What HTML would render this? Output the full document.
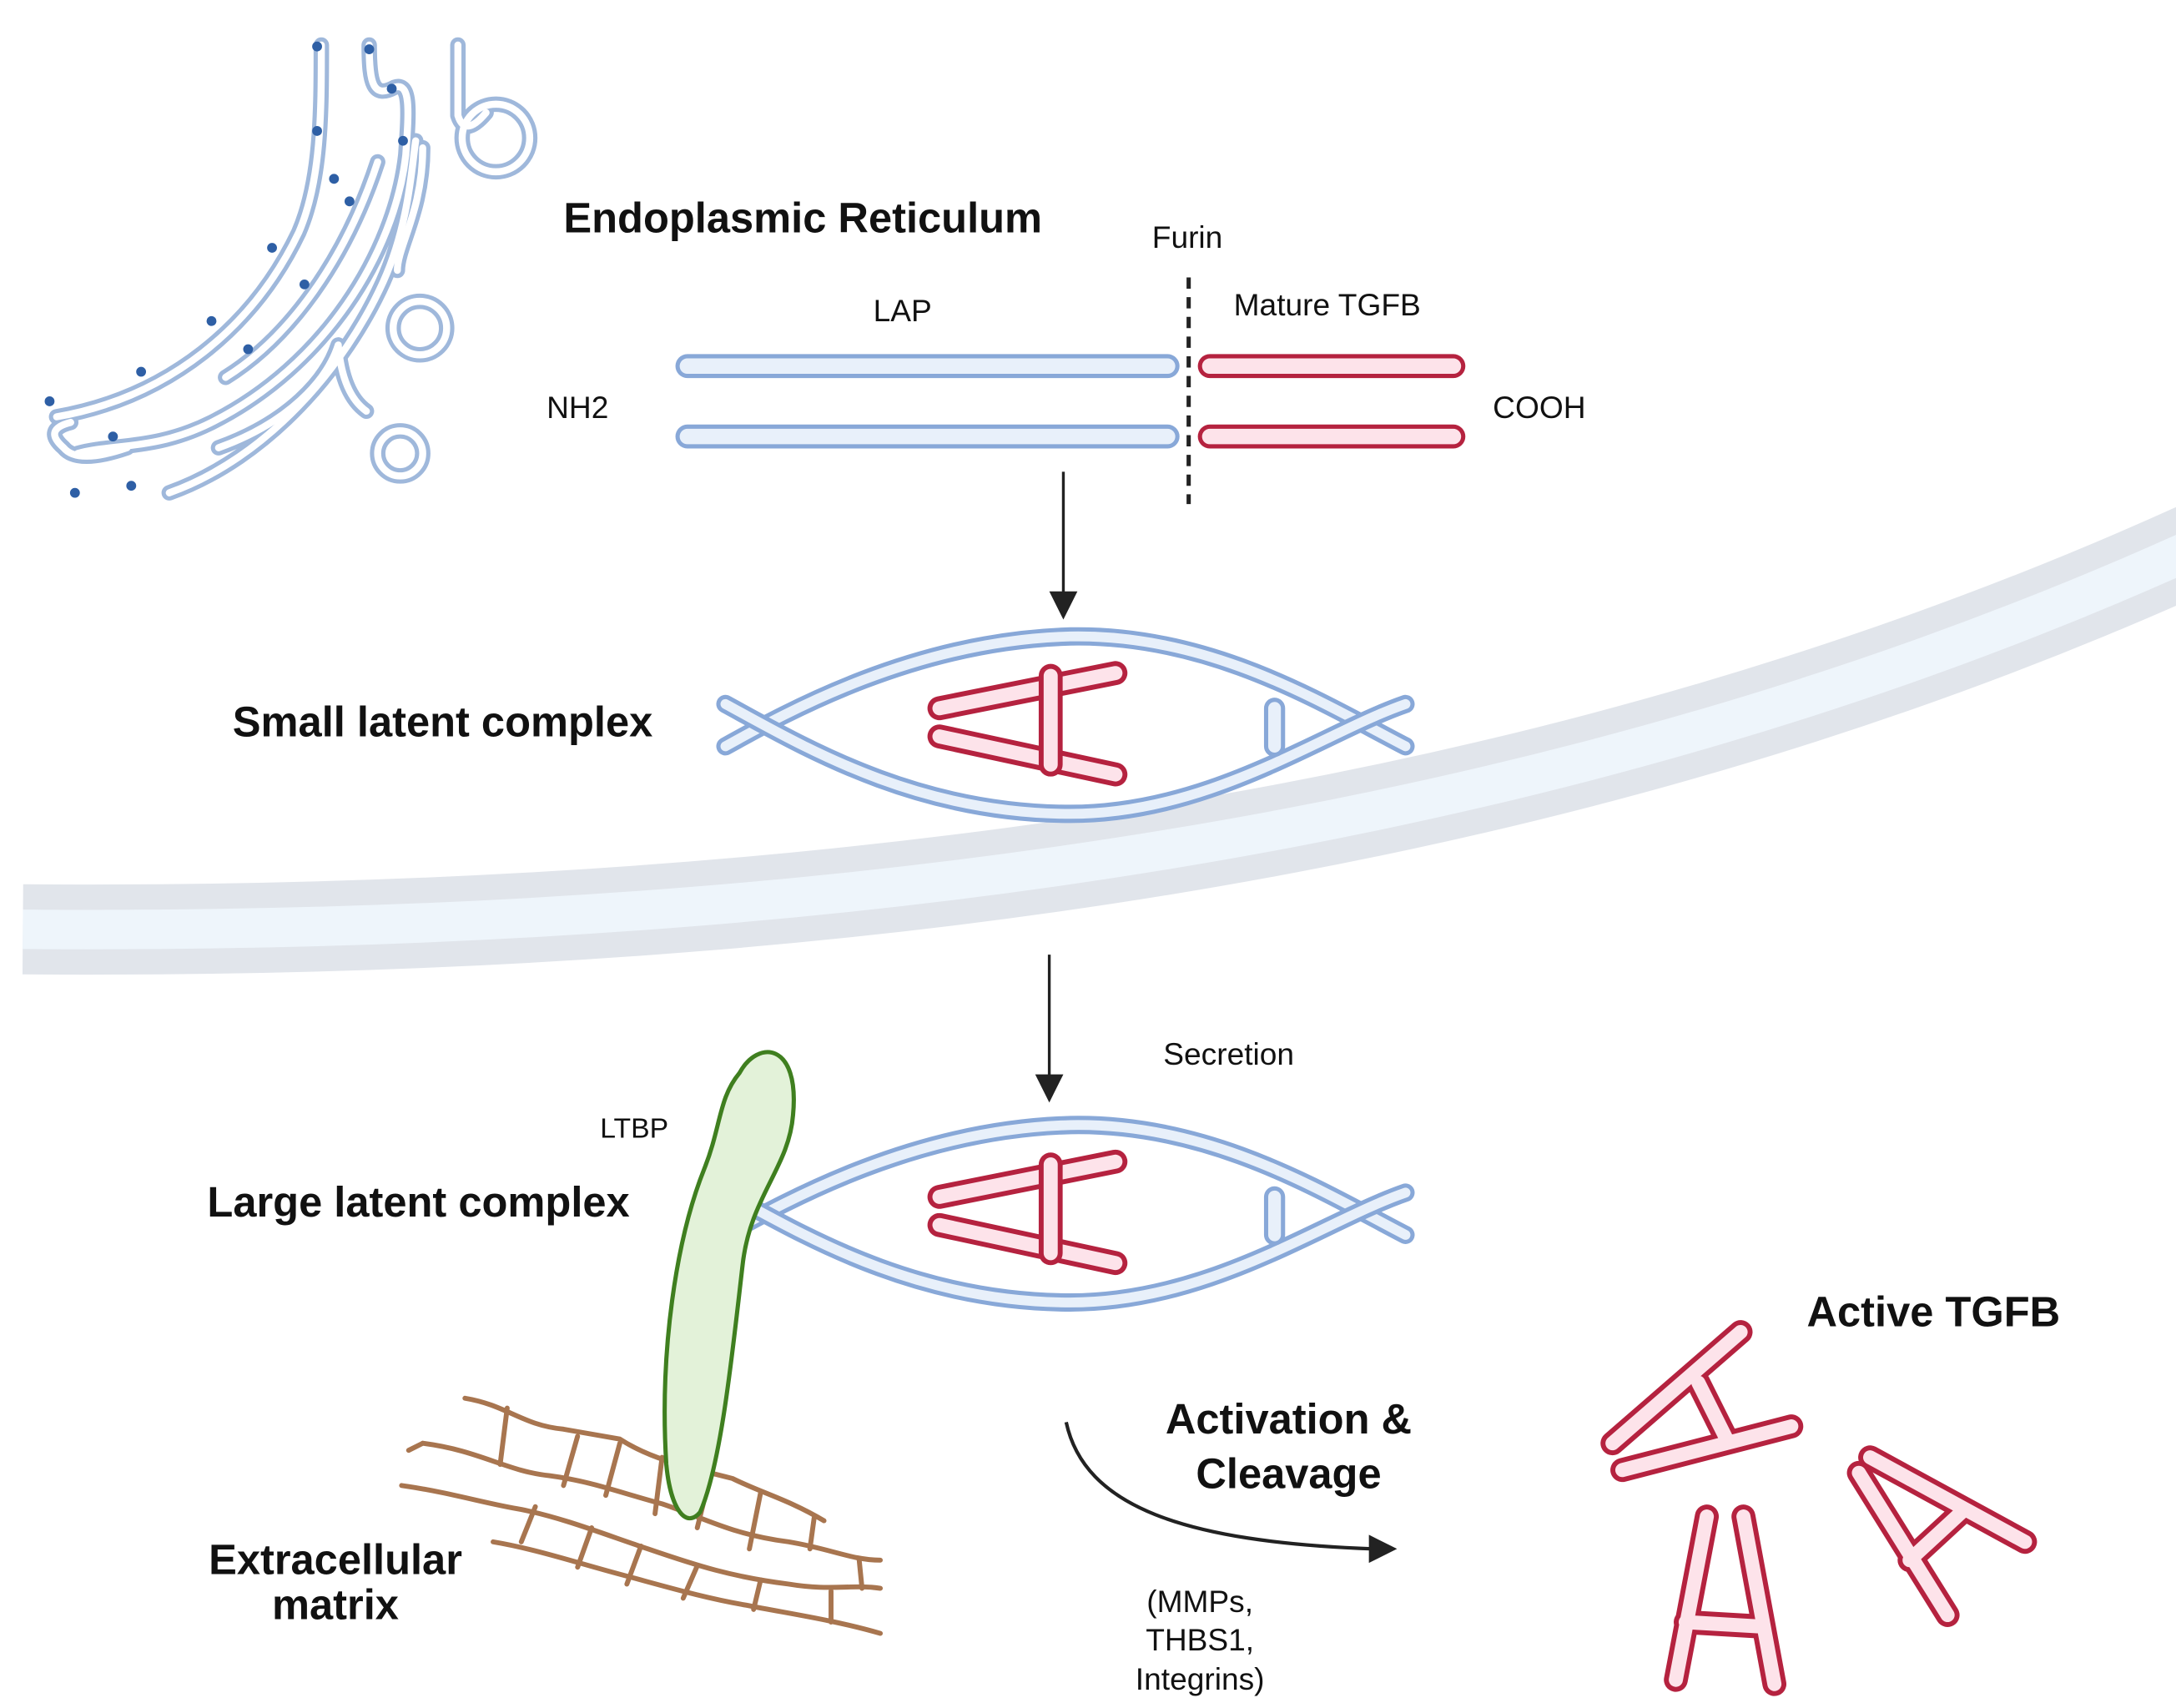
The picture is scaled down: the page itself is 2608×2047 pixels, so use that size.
<!DOCTYPE html>
<html><head><meta charset="utf-8"><style>
html,body{margin:0;padding:0;background:#fff;}
svg{display:block;}
text{font-family:"Liberation Sans",Arial,sans-serif;fill:#111;}
.b{font-weight:bold;font-size:30px;}
.r{font-size:22px;}
</style></head><body>
<svg width="2608" height="2047" viewBox="0 0 1545 1213" xmlns="http://www.w3.org/2000/svg">
<defs>
<g id="lens">
  <path d="M515,530 C 560,505 650,455 760,452 C 860,450 940,500 998,530" fill="none" stroke="#88a8d8" stroke-width="13" stroke-linecap="round"/>
  <path d="M515,530 C 560,505 650,455 760,452 C 860,450 940,500 998,530" fill="none" stroke="#e8f0fa" stroke-width="7" stroke-linecap="round"/>
  <path d="M515,500 C 570,530 650,578 760,578 C 860,578 940,520 998,500" fill="none" stroke="#88a8d8" stroke-width="13" stroke-linecap="round"/>
  <path d="M515,500 C 570,530 650,578 760,578 C 860,578 940,520 998,500" fill="none" stroke="#e8f0fa" stroke-width="7" stroke-linecap="round"/>
  <line x1="905" y1="503" x2="905" y2="530" stroke="#88a8d8" stroke-width="15" stroke-linecap="round"/>
  <line x1="905" y1="503" x2="905" y2="530" stroke="#e8f0fa" stroke-width="9" stroke-linecap="round"/>
  <g stroke-linecap="round">
    <line x1="667" y1="503" x2="792" y2="478" stroke="#b5223f" stroke-width="17"/>
    <line x1="667" y1="503" x2="792" y2="478" stroke="#fde3ea" stroke-width="10"/>
    <line x1="667" y1="523" x2="792" y2="550" stroke="#b5223f" stroke-width="17"/>
    <line x1="667" y1="523" x2="792" y2="550" stroke="#fde3ea" stroke-width="10"/>
    <line x1="746" y1="480" x2="746" y2="543" stroke="#b5223f" stroke-width="17"/>
    <line x1="746" y1="480" x2="746" y2="543" stroke="#fde3ea" stroke-width="10"/>
  </g>
</g>
</defs>

<!-- membrane -->
<path d="M16,660 C 700,665 1200,560 1600,370" fill="none" stroke="#e1e5eb" stroke-width="64"/>
<path d="M16,660 C 700,665 1200,560 1600,370" fill="none" stroke="#eef5fb" stroke-width="28"/>

<!-- ER -->
<g fill="none" stroke-linecap="round" stroke-linejoin="round">
 <g stroke="#9fb8db" stroke-width="11">
  <path d="M40,296 C 120,282 180,232 212,165 C 228,128 228,80 228,32"/>
  <path d="M262,32 C 262,60 265,70 280,62 C 292,58 290,80 288,110 C 280,180 230,260 150,300 C 110,320 80,315 55,322"/>
  <path d="M160,268 C 205,240 245,185 268,115"/>
  <path d="M120,350 C 190,325 245,260 272,200 C 290,160 292,120 295,100"/>
  <path d="M155,318 C 205,300 232,270 240,245 Q 243,280 260,292"/>
  <path d="M325,32 L325,82 Q 330,98 345,80"/>
  <path d="M300,105 C 300,150 282,175 282,192"/>
  <circle cx="352" cy="98" r="24"/>
  <circle cx="298" cy="233" r="19"/>
  <circle cx="284" cy="322" r="16"/>
  <path d="M50,300 Q 30,305 45,318 Q 55,330 90,318"/>
 </g>
 <g stroke="#ffffff" stroke-width="5">
  <path d="M40,296 C 120,282 180,232 212,165 C 228,128 228,80 228,32"/>
  <path d="M262,32 C 262,60 265,70 280,62 C 292,58 290,80 288,110 C 280,180 230,260 150,300 C 110,320 80,315 55,322"/>
  <path d="M160,268 C 205,240 245,185 268,115"/>
  <path d="M120,350 C 190,325 245,260 272,200 C 290,160 292,120 295,100"/>
  <path d="M155,318 C 205,300 232,270 240,245 Q 243,280 260,292"/>
  <path d="M325,32 L325,82 Q 330,98 345,80"/>
  <path d="M300,105 C 300,150 282,175 282,192"/>
  <circle cx="352" cy="98" r="24"/>
  <circle cx="298" cy="233" r="19"/>
  <circle cx="284" cy="322" r="16"/>
  <path d="M50,300 Q 30,305 45,318 Q 55,330 90,318"/>
 </g>
</g>
<g fill="#2e5fa5">
 <circle cx="225" cy="33" r="3.5"/><circle cx="262" cy="35" r="3.5"/><circle cx="278" cy="63" r="3.5"/>
 <circle cx="225" cy="93" r="3.5"/><circle cx="237" cy="127" r="3.5"/><circle cx="286" cy="100" r="3.5"/>
 <circle cx="248" cy="143" r="3.5"/><circle cx="193" cy="176" r="3.5"/><circle cx="216" cy="202" r="3.5"/>
 <circle cx="176" cy="248" r="3.5"/><circle cx="150" cy="228" r="3.5"/><circle cx="100" cy="264" r="3.5"/>
 <circle cx="35" cy="285" r="3.5"/><circle cx="80" cy="310" r="3.5"/><circle cx="93" cy="345" r="3.5"/>
 <circle cx="53" cy="350" r="3.5"/>
</g>

<!-- top labels -->
<text class="b" x="400" y="165">Endoplasmic Reticulum</text>
<text class="r" x="818" y="176">Furin</text>
<text class="r" x="620" y="228">LAP</text>
<text class="r" x="876" y="224">Mature TGFB</text>
<text class="r" x="388" y="297">NH2</text>
<text class="r" x="1060" y="297">COOH</text>

<!-- precursor bars -->
<g stroke-linecap="round">
 <line x1="488" y1="260" x2="829" y2="260" stroke="#88a8d8" stroke-width="17"/>
 <line x1="488" y1="260" x2="829" y2="260" stroke="#e8f0fa" stroke-width="11"/>
 <line x1="488" y1="310" x2="829" y2="310" stroke="#88a8d8" stroke-width="17"/>
 <line x1="488" y1="310" x2="829" y2="310" stroke="#e8f0fa" stroke-width="11"/>
 <line x1="859" y1="260" x2="1032" y2="260" stroke="#b5223f" stroke-width="17"/>
 <line x1="859" y1="260" x2="1032" y2="260" stroke="#fde3ea" stroke-width="11"/>
 <line x1="859" y1="310" x2="1032" y2="310" stroke="#b5223f" stroke-width="17"/>
 <line x1="859" y1="310" x2="1032" y2="310" stroke="#fde3ea" stroke-width="11"/>
</g>
<line x1="844" y1="197" x2="844" y2="358" stroke="#222" stroke-width="3" stroke-dasharray="8,6"/>

<!-- arrows -->
<line x1="755" y1="335" x2="755" y2="422" stroke="#222" stroke-width="2"/>
<polygon points="745,420 765,420 755,440" fill="#222"/>
<line x1="745" y1="678" x2="745" y2="765" stroke="#222" stroke-width="2"/>
<polygon points="735,763 755,763 745,783" fill="#222"/>

<text class="b" x="165" y="523">Small latent complex</text>
<use href="#lens"/>

<text class="r" x="826" y="756">Secretion</text>
<text class="b" x="147" y="864">Large latent complex</text>
<text class="r" x="426" y="808" style="font-size:20px">LTBP</text>
<use href="#lens" transform="translate(0,347)"/>

<!-- ECM -->
<g fill="none" stroke="#a8754f" stroke-width="3.5" stroke-linecap="round" stroke-linejoin="round">
 <path d="M330,993 C 360,998 370,1012 400,1015 L 440,1022 C 460,1035 480,1040 520,1050 C 540,1060 560,1065 585,1080"/>
 <path d="M300,1025 C 340,1030 360,1045 390,1048 C 420,1052 440,1060 470,1068 C 500,1078 520,1090 560,1095 C 590,1100 605,1108 625,1108"/>
 <path d="M285,1055 C 320,1060 345,1068 370,1072 C 400,1078 430,1090 460,1100 C 495,1112 520,1120 560,1125 C 590,1130 605,1125 625,1128"/>
 <path d="M350,1095 C 380,1100 410,1110 440,1118 C 470,1126 500,1135 530,1140 C 560,1146 590,1150 625,1160"/>
 <path d="M290,1030 L 300,1025"/>
 <path d="M360,1000 L 355,1040 M 410,1020 L 400,1055 M 440,1025 L 430,1062 M 470,1035 L 465,1075 M 505,1045 L 495,1085 M 540,1060 L 532,1100 M 578,1078 L 575,1100 M 610,1108 L 612,1128 M 380,1070 L 370,1095 M 420,1085 L 410,1113 M 455,1098 L 445,1125 M 495,1112 L 485,1135 M 540,1122 L 535,1143 M 590,1130 L 590,1152"/>
</g>
<text class="b" x="238" y="1118" text-anchor="middle">Extracellular</text>
<text class="b" x="238" y="1150" text-anchor="middle">matrix</text>

<!-- LTBP -->
<path d="M525,762 C 538,738 568,740 563,792 C 560,830 532,850 527,900 C 520,960 512,1040 497,1074 C 487,1086 476,1072 473,1040 C 468,960 480,880 500,830 C 512,800 510,780 525,762 Z" fill="#e3f2d9" stroke="#3f7f1f" stroke-width="3"/>

<!-- Activation arrow -->
<path d="M757,1010 C 770,1070 840,1095 975,1100" fill="none" stroke="#222" stroke-width="2.5"/>
<polygon points="972,1090 992,1100 972,1110" fill="#222"/>
<text class="b" x="915" y="1018" text-anchor="middle">Activation &amp;</text>
<text class="b" x="915" y="1057" text-anchor="middle">Cleavage</text>
<text class="r" x="852" y="1145" text-anchor="middle">(MMPs,</text>
<text class="r" x="852" y="1172" text-anchor="middle">THBS1,</text>
<text class="r" x="852" y="1200" text-anchor="middle">Integrins)</text>

<text class="b" x="1283" y="942">Active TGFB</text>

<!-- active TGFB -->
<g stroke-linecap="round">
 <g stroke="#b5223f" stroke-width="17">
  <line x1="1145" y1="1025" x2="1236" y2="946"/>
  <line x1="1152" y1="1044" x2="1272" y2="1013"/>
  <line x1="1206" y1="982" x2="1226" y2="1022"/>
  <line x1="1212" y1="1077" x2="1190" y2="1193"/>
  <line x1="1238" y1="1077" x2="1260" y2="1196"/>
  <line x1="1197" y1="1152" x2="1248" y2="1155"/>
  <line x1="1328" y1="1035" x2="1438" y2="1095"/>
  <line x1="1320" y1="1046" x2="1383" y2="1147"/>
  <line x1="1356" y1="1108" x2="1395" y2="1072"/>
 </g>
 <g stroke="#fde3ea" stroke-width="10">
  <line x1="1145" y1="1025" x2="1236" y2="946"/>
  <line x1="1152" y1="1044" x2="1272" y2="1013"/>
  <line x1="1206" y1="982" x2="1226" y2="1022"/>
  <line x1="1212" y1="1077" x2="1190" y2="1193"/>
  <line x1="1238" y1="1077" x2="1260" y2="1196"/>
  <line x1="1197" y1="1152" x2="1248" y2="1155"/>
  <line x1="1328" y1="1035" x2="1438" y2="1095"/>
  <line x1="1320" y1="1046" x2="1383" y2="1147"/>
  <line x1="1356" y1="1108" x2="1395" y2="1072"/>
 </g>
</g>
</svg>
</body></html>
